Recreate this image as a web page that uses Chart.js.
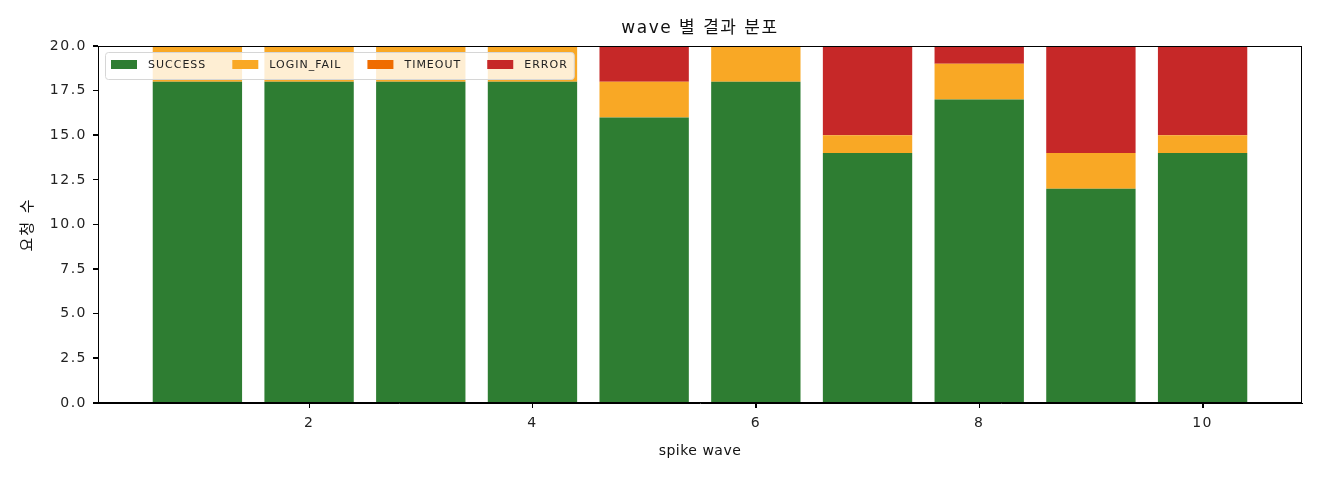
<!DOCTYPE html>
<html>
<head>
<meta charset="utf-8">
<script src="https://cdn.jsdelivr.net/npm/chart.js@4.4.1/dist/chart.umd.min.js"></script>
<style>
  html, body { margin: 0; padding: 0; background: #fff; }
  #wrap { width: 1320px; height: 480px; }
</style>
</head>
<body>
<div id="wrap"><canvas id="myChart" width="1320" height="480"></canvas></div>
<script>
var waves = [1, 2, 3, 4, 5, 6, 7, 8, 9, 10];
var success = [18, 18, 18, 18, 16, 18, 14, 17, 12, 14];
var loginFail = [2, 2, 2, 2, 2, 2, 1, 2, 2, 1];
var timeout = [0, 0, 0, 0, 0, 0, 0, 0, 0, 0];
var errors = [0, 0, 0, 0, 2, 0, 5, 1, 6, 5];
var xTicks = [2, 4, 6, 8, 10];
var yTicks = [0, 2.5, 5, 7.5, 10, 12.5, 15, 17.5, 20];

var FONT = "'DejaVu Sans', 'Noto Sans CJK KR', sans-serif";

function points(vals) {
  return waves.map(function (w, i) { return { x: w, y: vals[i] }; });
}

// wider spacing for the tick labels drawn by chart.js
const spacing = {
  id: "spacing",
  beforeDraw(chart) { chart.ctx.letterSpacing = "1.5px"; },
  afterDraw(chart) { chart.ctx.letterSpacing = "0px"; }
};

// title, axis labels, frame, tick marks and in-plot legend
const extras = {
  id: "extras",
  afterDatasetsDraw(chart) {
    const ctx = chart.ctx;
    const a = chart.chartArea;
    const xs = chart.scales.x, ys = chart.scales.y;
    ctx.save();

    ctx.strokeStyle = "#000";
    ctx.lineWidth = 1;
    ctx.strokeRect(a.left + 0.5, a.top + 0.5, a.right - a.left - 1, a.bottom - a.top - 1);

    ctx.beginPath();
    xTicks.forEach(function (v) {
      const px = Math.round(xs.getPixelForValue(v)) + 0.5;
      ctx.moveTo(px, a.bottom);
      ctx.lineTo(px, a.bottom + 5);
    });
    yTicks.forEach(function (v) {
      const py = Math.round(ys.getPixelForValue(v)) - 0.5;
      ctx.moveTo(a.left - 5, py);
      ctx.lineTo(a.left, py);
    });
    ctx.stroke();

    // legend
    const sets = chart.data.datasets;
    ctx.font = "11px " + FONT;
    ctx.letterSpacing = "1px";
    let w = 12;
    sets.forEach(function (d, i) {
      w += 26 + 11 + ctx.measureText(d.label).width + (i < sets.length - 1 ? 26 : 0);
    });
    const lx = a.left + 7, ly = a.top + 6, lh = 27;
    ctx.beginPath();
    ctx.roundRect(lx + 0.5, ly + 0.5, w, lh, 3);
    ctx.fillStyle = "rgba(255,255,255,0.8)";
    ctx.fill();
    ctx.strokeStyle = "#d6d6d6";
    ctx.stroke();
    let x = lx + 6;
    sets.forEach(function (d) {
      ctx.fillStyle = d.backgroundColor;
      ctx.fillRect(x, ly + 8, 26, 9);
      x += 37;
      ctx.fillStyle = "#222";
      ctx.textBaseline = "middle";
      ctx.textAlign = "left";
      ctx.fillText(d.label, x, ly + 13.5);
      x += ctx.measureText(d.label).width + 26;
    });

    // title
    ctx.fillStyle = "#111";
    ctx.textAlign = "center";
    ctx.textBaseline = "middle";
    ctx.font = "17px " + FONT;
    ctx.letterSpacing = "1.5px";
    ctx.fillText("wave 별 결과 분포", (a.left + a.right) / 2, 29);

    // axis titles
    ctx.font = "14px " + FONT;
    ctx.letterSpacing = "0.5px";
    ctx.fillText("spike wave", (a.left + a.right) / 2, 451);
    ctx.font = "15px " + FONT;
    ctx.letterSpacing = "2px";
    ctx.translate(28, (a.top + a.bottom) / 2);
    ctx.rotate(-Math.PI / 2);
    ctx.fillText("요청 수", 0, 0);
    ctx.restore();
  }
};

new Chart("myChart", {
  type: "bar",
  data: {
    datasets: [
      { label: "SUCCESS", data: points(success), backgroundColor: "#2e7d32" },
      { label: "LOGIN_FAIL", data: points(loginFail), backgroundColor: "#f9a825" },
      { label: "TIMEOUT", data: points(timeout), backgroundColor: "#ef6c00" },
      { label: "ERROR", data: points(errors), backgroundColor: "#c62828" }
    ]
  },
  options: {
    responsive: false,
    animation: false,
    layout: { padding: { left: 0, right: 18, top: 46, bottom: 0 } },
    datasets: { bar: { barPercentage: 0.8, categoryPercentage: 1.0, borderWidth: 0 } },
    plugins: {
      legend: { display: false },
      title: { display: false },
      tooltip: { enabled: false }
    },
    scales: {
      x: {
        type: "linear",
        stacked: true,
        offset: false,
        min: 0.11,
        max: 10.89,
        afterBuildTicks: function (s) { s.ticks = xTicks.map(function (v) { return { value: v }; }); },
        afterFit: function (s) { s.height = 77; },
        ticks: { color: "#222", font: { size: 14, family: FONT }, padding: 7, maxRotation: 0,
                 callback: function (v) { return String(v); } },
        grid: { offset: false, drawOnChartArea: false, drawTicks: true, tickLength: 5, color: "#000" },
        border: { display: true, color: "#000" }
      },
      y: {
        stacked: true,
        min: 0,
        max: 20,
        afterBuildTicks: function (s) { s.ticks = yTicks.map(function (v) { return { value: v }; }); },
        afterFit: function (s) { s.width = 98; },
        ticks: { color: "#222", font: { size: 14, family: FONT }, padding: 6,
                 callback: function (v) { return v.toFixed(1); } },
        grid: { offset: false, drawOnChartArea: false, drawTicks: true, tickLength: 5, color: "#000" },
        border: { display: true, color: "#000" }
      }
    }
  },
  plugins: [spacing, extras]
});
</script>
</body>
</html>
